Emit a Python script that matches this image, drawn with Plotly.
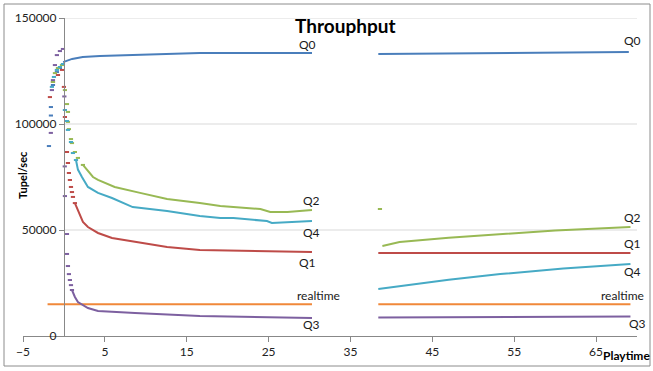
import plotly.graph_objects as go

# ---------------- data ----------------
# startup: rising sparse points (markers only)
q0_rise_x = [-1.83, -1.59, -1.59, -1.34, -0.86, -0.49]
q0_rise_y = [89600, 104000, 108000, 118400, 124500, 126400]
q0_x = [-0.1, 1.0, 2.3, 4.4, 8.4, 16.6, 30.3, None, 38.4, 69.0]
q0_y = [129200, 130700, 131600, 132100, 132500, 133500, 133500, None, 133000, 134000]

q1_rise_x = [-1.71, -1.34, -0.73, -0.24]
q1_rise_y = [112700, 119800, 123100, 125500]
q1_fall_x = [0.0, 0.12, 0.37, 0.49, 0.61, 0.73, 0.86, 0.98, 1.1, 1.34]
q1_fall_y = [117500, 103300, 86800, 81600, 76900, 73600, 70300, 67900, 65600, 62700]
q1_x = [1.34, 1.59, 1.96, 2.32, 2.93, 4.16, 5.87, 8.68, 12.6, 16.6, 30.3, None, 38.4, 69.2]
q1_y = [62700, 60400, 57100, 53800, 51400, 48600, 46200, 44300, 42000, 40600, 39600, None, 39200, 39200]

q2_rise_x = [-1.34, -1.1, -0.73, -0.24]
q2_rise_y = [119800, 124000, 126400, 127800]
q2_fall_x = [0.12, 0.37, 0.49, 0.49, 0.61, 0.86, 0.98, 1.34, 1.71, 2.32, 38.6]
q2_fall_y = [116000, 109400, 105700, 101000, 97600, 92900, 91000, 86800, 84000, 80700, 59900]
q2_x = [2.32, 2.93, 3.55, 4.16, 6.2, 9.3, 12.6, 16.6, 19.1, 20.7, 24.0, 25.2, 27.3, 30.3,
        None, 38.9, 41.0, 47.0, 53.3, 60.0, 69.2]
q2_y = [80700, 77800, 75000, 73600, 70300, 67500, 64600, 62700, 61300, 60800, 59900, 58500, 58500, 59400,
        None, 42500, 44300, 46300, 48100, 49800, 51400]

q3_rise_x = [-1.6, -1.47, -1.34, -1.1, -0.86, -0.49, -0.12]
q3_rise_y = [95800, 116000, 120700, 127800, 132500, 134400, 135400]
q3_fall_x = [0.05, 0.1, 0.12, 0.37, 0.37, 0.49, 0.61, 0.73, 0.86, 0.98]
q3_fall_y = [113000, 80000, 66000, 48100, 38700, 33000, 29200, 26400, 24000, 21700]
q3_x = [0.98, 1.1, 1.34, 1.71, 2.32, 2.93, 4.16, 5.87, 8.68, 16.6, 30.3, None, 38.4, 69.2]
q3_y = [21700, 20300, 18400, 16000, 14600, 13200, 11800, 11300, 10800, 9400, 8500, None, 8700, 9200]

q4_rise_x = [-1.47, -1.22, -0.86, -0.49, -0.12]
q4_rise_y = [117500, 122200, 125500, 126900, 128300]
q4_fall_x = [0.12, 0.37, 0.49, 0.86, 1.1, 1.47]
q4_fall_y = [106600, 101400, 97200, 91500, 86300, 83000]
q4_x = [1.47, 1.71, 2.2, 2.93, 4.16, 5.87, 8.4, 12.6, 16.6, 19.1, 20.7, 24.8, 25.4, 30.3,
        None, 38.4, 41.0, 47.0, 53.3, 61.0, 69.2]
q4_y = [83000, 78500, 75000, 70300, 67500, 65100, 60800, 59000, 56600, 55700, 55700, 54200, 53300, 54200,
        None, 22200, 23600, 26500, 29200, 31800, 34000]

rt_x = [-2.0, 30.3, None, 38.4, 69.2]
rt_y = [15000, 15000, None, 15000, 15000]

x_ticks = [-5, 5, 15, 25, 35, 45, 55, 65]
y_ticks = [0, 50000, 100000, 150000]
y_tick_text = ["0", "50000", "100000", "150000"]

# ---------------- styling ----------------
C = {"Q0": "#4A7EBB", "Q1": "#BE4B48", "Q2": "#98B954", "Q3": "#7D60A0",
     "Q4": "#46AAC5", "realtime": "#F0883A"}
FONT = "Lato, 'Liberation Sans', sans-serif"

fig = go.Figure()

def dots(x, y, col):
    fig.add_trace(go.Scatter(x=x, y=y, mode="markers", showlegend=False, hoverinfo="skip",
                             marker=dict(symbol="line-ew", size=3, line=dict(color=col, width=2))))

def line(x, y, col):
    fig.add_trace(go.Scatter(x=x, y=y, mode="lines", showlegend=False, connectgaps=False,
                             line=dict(color=col, width=2)))

line(rt_x, rt_y, C["realtime"])
dots(q0_rise_x, q0_rise_y, C["Q0"]); line(q0_x, q0_y, C["Q0"])
dots(q1_rise_x, q1_rise_y, C["Q1"]); dots(q1_fall_x, q1_fall_y, C["Q1"]); line(q1_x, q1_y, C["Q1"])
dots(q2_rise_x, q2_rise_y, C["Q2"]); dots(q2_fall_x, q2_fall_y, C["Q2"]); line(q2_x, q2_y, C["Q2"])
dots(q4_rise_x, q4_rise_y, C["Q4"]); dots(q4_fall_x, q4_fall_y, C["Q4"]); line(q4_x, q4_y, C["Q4"])
dots(q3_rise_x, q3_rise_y, C["Q3"]); dots(q3_fall_x, q3_fall_y, C["Q3"]); line(q3_x, q3_y, C["Q3"])

# series labels
labels = [("Q0", 29.7, 137300), ("Q0", 69.4, 139600),
          ("Q2", 30.2, 64150), ("Q2", 69.4, 55700),
          ("Q4", 30.2, 48600), ("Q4", 69.5, 30200),
          ("Q1", 29.8, 34900), ("Q1", 69.4, 43400),
          ("realtime", 31.1, 19300), ("realtime", 68.2, 18900),
          ("Q3", 30.3, 5200), ("Q3", 70.0, 6100)]
ann = [dict(x=lx, y=ly, xref="x", yref="y", text=t, showarrow=False,
            xanchor="center", yanchor="middle",
            font=dict(family=FONT, size=12, color="#1a1a1a")) for t, lx, ly in labels]

L, T, W, H = 23, 18, 614, 318

def px(xp, yp):
    return (xp - L) / W, (T + H - yp) / H

tx, ty = px(345, 25)
ax_, ay_ = px(22, 175)
bx, by = px(626, 355)
ann += [
    dict(text="<b>Throuphput</b>", x=tx, y=ty, xref="paper", yref="paper", showarrow=False,
         xanchor="center", yanchor="middle", font=dict(family=FONT, size=19, color="#000")),
    dict(text="<b>Tupel/sec</b>", x=ax_, y=ay_, xref="paper", yref="paper", showarrow=False,
         xanchor="center", yanchor="middle",
         textangle=-90, font=dict(family=FONT, size=11, color="#000")),
    dict(text="<b>Playtime</b>", x=bx, y=by, xref="paper", yref="paper", showarrow=False,
         xanchor="center", yanchor="middle", font=dict(family=FONT, size=12, color="#000")),
]

shapes = []
for g in y_ticks[1:]:
    shapes.append(dict(type="line", xref="x", yref="y", x0=0, x1=70, y0=g, y1=g,
                       line=dict(color="#D9D9D9", width=1), layer="below"))
rx0, ry0 = px(4, 366)
rx1, ry1 = px(650, 4)
shapes.append(dict(type="rect", xref="paper", yref="paper", x0=rx0, x1=rx1, y0=ry0, y1=ry1,
                   line=dict(color="#8C8C8C", width=1)))

fig.update_layout(
    width=653, height=371, margin=dict(l=L, r=653 - L - W, t=T, b=371 - T - H, autoexpand=False),
    paper_bgcolor="white", plot_bgcolor="white",
    font=dict(family=FONT, size=12, color="#222"),
    xaxis=dict(range=[-5, 70], tickvals=x_ticks, ticks="outside", ticklen=5, tickcolor="#888",
               showline=True, linecolor="#888", linewidth=1, showgrid=False, zeroline=False,
               tickfont=dict(size=12), automargin=False),
    yaxis=dict(range=[0, 150000], tickvals=y_ticks, ticktext=y_tick_text, ticks="outside",
               ticklen=5, tickcolor="#888",
               anchor="free", position=5 / 75, showline=True, linecolor="#888", linewidth=1,
               showgrid=False, zeroline=False, tickfont=dict(size=12), automargin=False),
    annotations=ann, shapes=shapes,
)

fig.write_html("out.html", config={"displayModeBar": False},
               post_script="document.body.style.margin='0';document.body.style.padding='0';"
                           "document.body.style.overflow='hidden';")
